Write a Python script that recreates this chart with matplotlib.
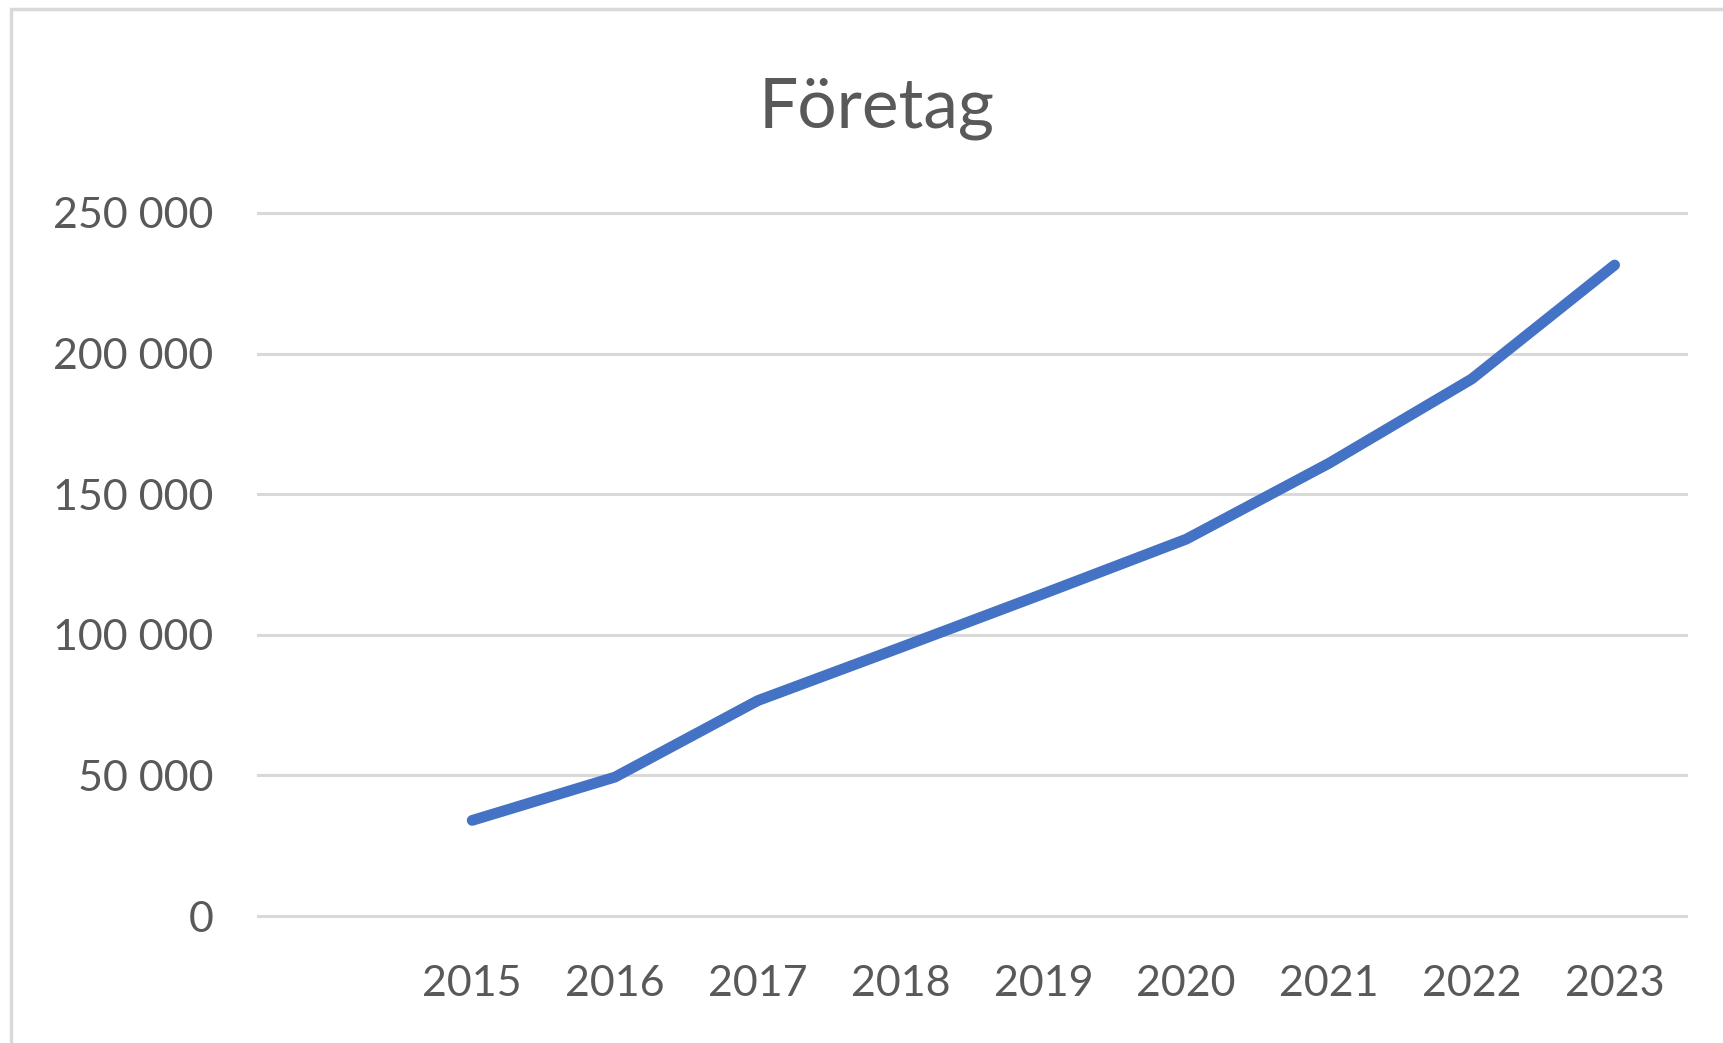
import numpy as np
import matplotlib
matplotlib.use("Agg")
import matplotlib.pyplot as plt
from matplotlib.patches import Rectangle
from matplotlib.ticker import FuncFormatter

# first category is empty in the source sheet
years = ["", "2015", "2016", "2017", "2018", "2019", "2020", "2021", "2022", "2023"]
companies = [np.nan, 34000, 49400, 76600, 95500, 114600, 134000, 161000, 191000, 231500]
y_ticks = [0, 50000, 100000, 150000, 200000, 250000]

COLORS = {
    "line": "#4472C4",
    "grid": "#D9D9D9",
    "text": "#595959",
    "border": "#D9D9D9",
}

plt.rcParams['font.family'] = ['Lato', 'DejaVu Sans']


def space_thousands(v, pos):
    return f"{int(v):,}".replace(",", " ")


fig = plt.figure(figsize=(17.24, 10.43), dpi=100)
ax = fig.add_axes([258 / 1724, 1 - 916 / 1043, 1428 / 1724, 703 / 1043])

x = np.arange(len(years))
ax.plot(x, companies, color=COLORS["line"], linewidth=7.8,
        solid_capstyle="round", solid_joinstyle="round", zorder=3)

ax.set_xlim(-0.5, len(years) - 0.5)
ax.set_ylim(0, 250000)
ax.set_xticks(x)
ax.set_xticklabels(years)
ax.set_yticks(y_ticks)
ax.yaxis.set_major_formatter(FuncFormatter(space_thousands))

ax.grid(axis="y", color=COLORS["grid"], linewidth=2.2)
ax.set_axisbelow(True)
for gl in ax.get_ygridlines():
    gl.set_clip_on(False)

for s in ax.spines.values():
    s.set_visible(False)

ax.tick_params(axis="both", length=0, labelsize=31, labelcolor=COLORS["text"])
ax.tick_params(axis="y", pad=32)
ax.tick_params(axis="x", pad=35)

fig.text(877 / 1724, 1 - 128 / 1043, "Företag", ha="center", va="baseline",
         fontsize=50, color=COLORS["text"])

# light frame of the chart area (right and bottom edges are cut off)
fig.patches.append(Rectangle((11 / 1724, -0.1), 1.2, 1.1 - 9 / 1043,
                             transform=fig.transFigure, fill=False,
                             edgecolor=COLORS["border"], linewidth=2.5))

fig.savefig("out.png", dpi=100)
plt.close(fig)
